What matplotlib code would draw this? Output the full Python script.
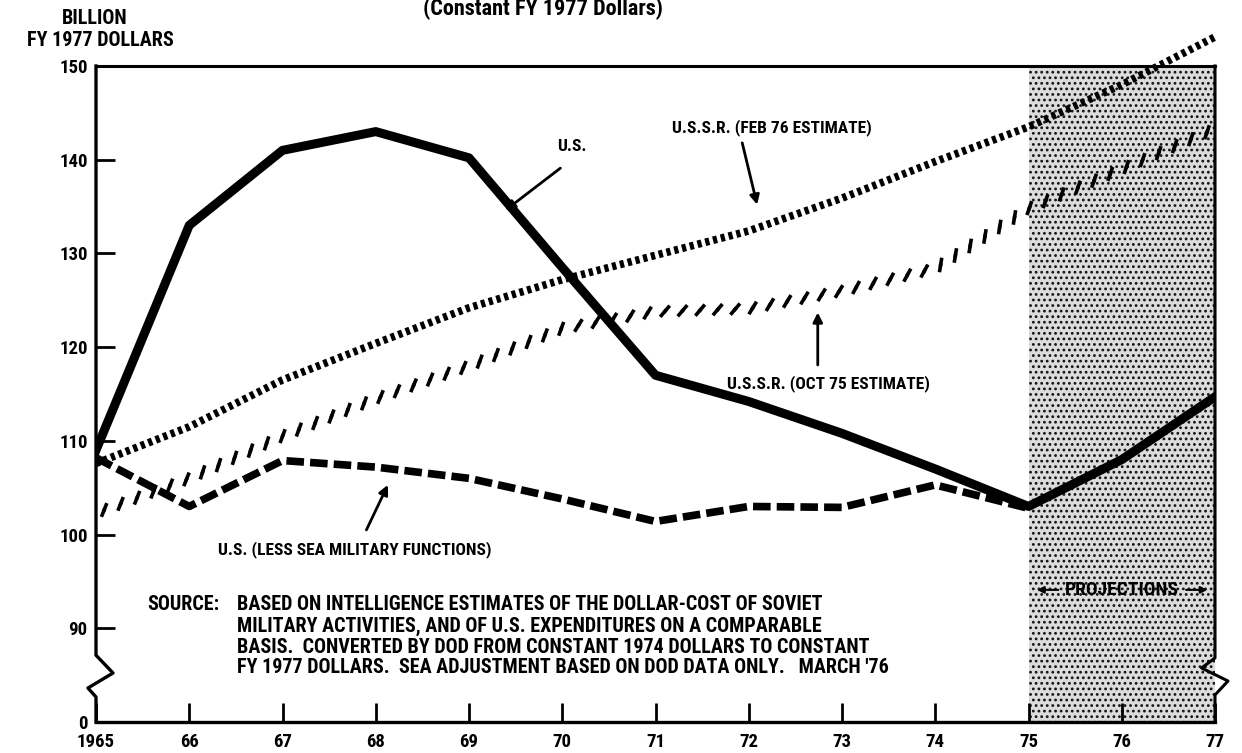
import numpy as np
import matplotlib
matplotlib.use("Agg")
import matplotlib.pyplot as plt
import matplotlib.patheffects as pe

# values (billion FY 1977 dollars)
years = [1965, 1966, 1967, 1968, 1969, 1970, 1971, 1972, 1973, 1974, 1975, 1976, 1977]
us = [109, 133, 141, 143, 140.2, 128.5, 117, 114.2, 110.8, 107, 103, 108, 114.7]
ussr_feb76 = [107.6, 111.5, 116.5, 120.4, 124.2, 127.2, 129.8, 132.4, 135.9, 139.8, 143.5, 148.0, 153.1]
ussr_oct75 = [102.3, 106, 110.5, 114.5, 118, 122, 123.8, 124.1, 126, 128.4, 134.8, 139, 143.3]
years_sea = years[:11]
us_less_sea = [108.2, 103, 107.9, 107.2, 106, 103.8, 101.4, 103, 102.9, 105.3, 102.8]

ytick_vals = [80, 90, 100, 110, 120, 130, 140, 150]
ytick_labels = ['0', '90', '100', '110', '120', '130', '140', '150']
xtick_labels = ['1965', '66', '67', '68', '69', '70', '71', '72', '73', '74', '75', '76', '77']

FONT = ['Roboto Condensed', 'PT Sans Narrow', 'DejaVu Sans']
plt.rcParams['font.family'] = FONT
plt.rcParams['font.weight'] = 'bold'
plt.rcParams['hatch.linewidth'] = 1.2


def main():
    fig = plt.figure(figsize=(12.42, 7.53), dpi=100)
    ax = fig.add_axes([96 / 1242, 31 / 753, 1119 / 1242, 656 / 753])
    ax.set_xlim(1965, 1977)
    ax.set_ylim(80, 150)

    # projections band
    ax.axvspan(1975, 1977, facecolor='#dcdcdc', edgecolor='#111111',
               hatch='...', linewidth=0, zorder=0)

    ax.plot(years, us, color='black', lw=6.5, zorder=5)
    ax.plot(years, ussr_feb76, color='black', lw=5.5, ls=(0, (0.55, 0.5)),
            dash_capstyle='butt', clip_on=False, zorder=4)
    ticks = [pe.TickedStroke(spacing=12.5, angle=48, length=0.32, linewidth=2.6,
                             foreground='black'),
             pe.TickedStroke(spacing=12.5, angle=-132, length=0.32, linewidth=2.6,
                             foreground='black')]
    ax.plot(years, ussr_oct75, color='black', lw=2, path_effects=ticks, zorder=4)
    ax.plot(years_sea, us_less_sea, color='black', lw=5.5, ls=(0, (2.3, 0.8)),
            dash_capstyle='butt', zorder=4)

    # spines / ticks
    for s in ['left', 'right']:
        ax.spines[s].set_visible(False)
    ax.spines['top'].set_linewidth(2.2)
    ax.spines['bottom'].set_linewidth(2.4)
    tr = ax.transAxes
    ax.plot([0, 0, 0.0152, -0.0072, 0, 0], [1, 0.1018, 0.0747, 0.0518, 0.0381, 0],
            transform=tr, color='black', lw=2.4, clip_on=False, zorder=6)
    ax.plot([1, 1, 0.988, 1.0116, 1, 1], [1, 0.0976, 0.0823, 0.0625, 0.0412, 0],
            transform=tr, color='black', lw=2.2, clip_on=False, zorder=6)

    ax.set_yticks(ytick_vals)
    ax.set_yticklabels(ytick_labels)
    ax.set_xticks(years)
    ax.set_xticklabels(xtick_labels)
    ax.tick_params(axis='y', direction='in', length=14, width=2, pad=6,
                   labelsize=13.5, left=True, right=False)
    ax.tick_params(axis='x', direction='in', length=14, width=2, pad=8,
                   labelsize=13.5)
    for lab in ax.get_xticklabels() + ax.get_yticklabels():
        lab.set_fontweight('bold')

    # titles
    fig.text(543 / 1242, 1 - 9 / 753, '(Constant FY 1977 Dollars)', ha='center',
             va='center', fontsize=16, fontweight='bold')
    fig.text(95 / 1242, 1 - 19 / 753, 'BILLION', ha='center', va='center',
             fontsize=14.5, fontweight='bold')
    fig.text(100 / 1242, 1 - 40 / 753, 'FY 1977 DOLLARS', ha='center', va='center',
             fontsize=14.5, fontweight='bold')

    # labels with arrows
    arrow = dict(arrowstyle='-|>', color='black', lw=2, mutation_scale=14,
                 shrinkA=0, shrinkB=0)
    fs = 12.5
    ax.text(1970.10, 141.4, 'U.S.', ha='center', va='center', fontsize=fs)
    ax.annotate('', xy=(1969.39, 134.6), xytext=(1969.98, 139.1), arrowprops=arrow)
    ax.text(1972.25, 143.4, 'U.S.S.R. (FEB 76 ESTIMATE)', ha='center', va='center',
            fontsize=fs)
    ax.annotate('', xy=(1972.09, 135.2), xytext=(1971.93, 141.8), arrowprops=arrow)
    ax.text(1972.85, 116.1, 'U.S.S.R. (OCT 75 ESTIMATE)', ha='center', va='center',
            fontsize=fs)
    ax.annotate('', xy=(1972.74, 123.7), xytext=(1972.74, 118.1), arrowprops=arrow)
    ax.text(1967.78, 98.35, 'U.S. (LESS SEA MILITARY FUNCTIONS)', ha='center',
            va='center', fontsize=fs)
    ax.annotate('', xy=(1968.13, 105.3), xytext=(1967.90, 100.5), arrowprops=arrow)

    source = ("BASED ON INTELLIGENCE ESTIMATES OF THE DOLLAR-COST OF SOVIET\n"
              "MILITARY ACTIVITIES, AND OF U.S. EXPENDITURES ON A COMPARABLE\n"
              "BASIS.  CONVERTED BY DOD FROM CONSTANT 1974 DOLLARS TO CONSTANT\n"
              "FY 1977 DOLLARS.  SEA ADJUSTMENT BASED ON DOD DATA ONLY.   MARCH '76")
    ax.text(1965.55, 93.5, 'SOURCE:', ha='left', va='top', fontsize=14.5)
    ax.text(1966.51, 93.5, source, ha='left', va='top', fontsize=14.5,
            linespacing=1.13)

    ax.text(1976.0, 94.1, 'PROJECTIONS', ha='center', va='center', fontsize=14)
    small = dict(arrowstyle='-|>', color='black', lw=1.5, mutation_scale=10,
                 shrinkA=0, shrinkB=0)
    ax.annotate('', xy=(1975.09, 94.1), xytext=(1975.32, 94.1), arrowprops=small)
    ax.annotate('', xy=(1976.92, 94.1), xytext=(1976.69, 94.1), arrowprops=small)

    fig.savefig('out.png', dpi=100)


if __name__ == "__main__":
    main()
